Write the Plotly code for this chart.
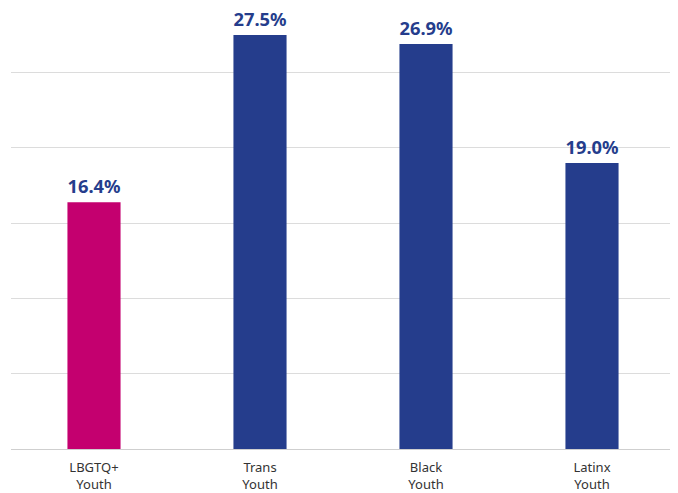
import plotly.graph_objects as go

categories = ["LBGTQ+<br>Youth", "Trans<br>Youth", "Black<br>Youth", "Latinx<br>Youth"]
values = [16.4, 27.5, 26.9, 19.0]
bar_colors = ["#C4006F", "#253D8C", "#253D8C", "#253D8C"]
value_labels = [f"{v:.1f}%" for v in values]

fig = go.Figure(go.Bar(
    x=categories, y=values, marker_color=bar_colors, marker_line_width=0,
    text=value_labels, textposition="outside", cliponaxis=False,
    textfont=dict(family="Noto Sans", size=19, color="#253D8C", weight="bold"),
))
fig.update_layout(
    width=678, height=493,
    margin=dict(l=3, r=11, t=6, b=52),
    paper_bgcolor="white", plot_bgcolor="white",
    bargap=0.68, showlegend=False,
    font=dict(family="Noto Sans", size=13, color="#333333"),
)
fig.update_yaxes(range=[0, 28.9], dtick=5, showticklabels=False,
                 showgrid=True, gridcolor="#DCDCDC", gridwidth=1,
                 zeroline=True, zerolinecolor="#CFCFCF", zerolinewidth=1)
fig.update_xaxes(showline=False, ticks="outside", ticklen=6, tickcolor="rgba(0,0,0,0)",
                 tickfont=dict(size=13, color="#333333"))
fig.write_html("out.html")
